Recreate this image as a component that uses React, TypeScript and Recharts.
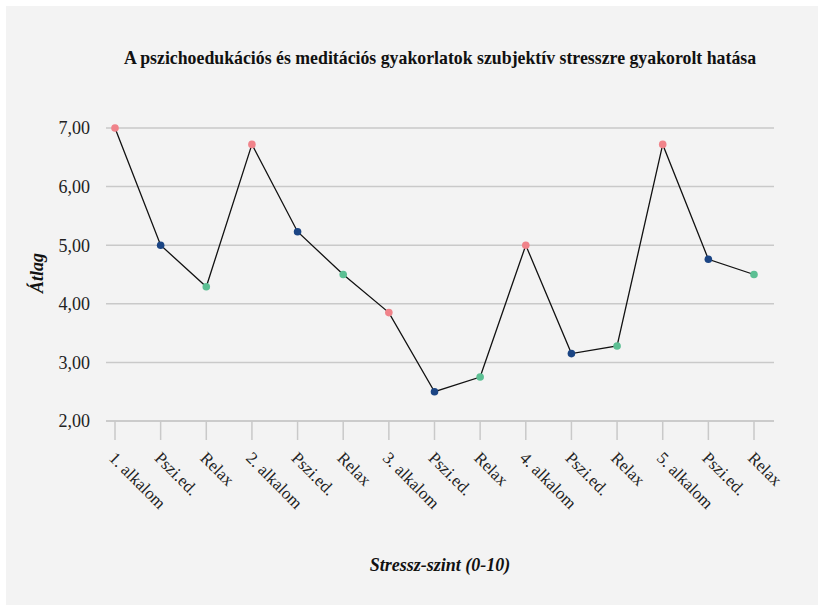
import React from 'react';
import { LineChart, Line, XAxis, YAxis, CartesianGrid } from 'recharts';

const categories = ['1. alkalom', 'Pszi.ed.', 'Relax', '2. alkalom', 'Pszi.ed.', 'Relax', '3. alkalom', 'Pszi.ed.', 'Relax', '4. alkalom', 'Pszi.ed.', 'Relax', '5. alkalom', 'Pszi.ed.', 'Relax'];
const values = [7.0, 5.0, 4.29, 6.72, 5.23, 4.5, 3.85, 2.5, 2.75, 5.0, 3.15, 3.28, 6.72, 4.76, 4.5];
const kinds = ['session', 'psy', 'relax', 'session', 'psy', 'relax', 'session', 'psy', 'relax', 'session', 'psy', 'relax', 'session', 'psy', 'relax'];
const yTicks = [2, 3, 4, 5, 6, 7];

const kindColors: Record<string, string> = { session: '#f0838a', psy: '#1b4584', relax: '#5cbf93' };

const data = categories.map((c, i) => ({ idx: i, name: c, value: values[i], kind: kinds[i] }));

const FONT = '"Liberation Serif", "DejaVu Serif", serif';

const Dot = (props: any) => {
  const { cx, cy, payload, index } = props;
  if (cx == null || cy == null) return null;
  return <circle key={'d' + index} cx={cx} cy={cy} r={3.8} fill={kindColors[payload.kind]} stroke="none" />;
};

const XTick = (props: any) => {
  const { x, y, payload } = props;
  return (
    <g transform={`translate(${x - 7},${y + 17})`}>
      <text transform="rotate(45)" textAnchor="start" fontSize={17} fill="#222" fontFamily={FONT}>
        {categories[payload.value]}
      </text>
    </g>
  );
};

export default function App() {
  return (
    <div style={{ position: 'absolute', left: 6, top: 6, width: 812, height: 599, background: '#f3f3f3', fontFamily: FONT }}>
      <div style={{ position: 'absolute', left: 0, width: 868, top: 42, textAlign: 'center', fontWeight: 'bold', fontSize: 17.8, color: '#111' }}>
        A pszichoedukációs és meditációs gyakorlatok szubjektív stresszre gyakorolt hatása
      </div>
      <div style={{ position: 'absolute', left: 31, top: 267, transform: 'translate(-50%,-50%) rotate(-90deg)', fontWeight: 'bold', fontStyle: 'italic', fontSize: 18, color: '#111', whiteSpace: 'nowrap' }}>
        Átlag
      </div>
      <div style={{ position: 'absolute', left: 0, width: 868, top: 549, textAlign: 'center', fontWeight: 'bold', fontStyle: 'italic', fontSize: 18, color: '#111' }}>
        Stressz-szint (0-10)
      </div>
      <div style={{ position: 'absolute', left: 0, top: 0 }}>
        <LineChart width={812} height={599} data={data} margin={{ top: 122, right: 44, left: 40, bottom: 64 }}>
          <CartesianGrid vertical={false} stroke="#c9c9c9" strokeWidth={1.5} />
          <XAxis
            dataKey="idx"
            type="category"
            interval={0}
            height={120}
            padding={{ left: 9, right: 20 }}
            axisLine={{ stroke: '#c9c9c9', strokeWidth: 1.5 }}
            tickLine={{ stroke: '#c9c9c9', strokeWidth: 1.5 }}
            tickSize={19}
            tick={<XTick />}
          />
          <YAxis
            domain={[2, 7]}
            ticks={yTicks}
            width={60}
            axisLine={false}
            tickLine={false}
            tickMargin={10}
            tickFormatter={(v: number) => v.toFixed(2).replace('.', ',')}
            tick={{ fontSize: 18, fill: '#222', fontFamily: FONT }}
          />
          <Line type="linear" dataKey="value" stroke="#111" strokeWidth={1.3} dot={<Dot />} activeDot={false} isAnimationActive={false} />
        </LineChart>
      </div>
    </div>
  );
}
